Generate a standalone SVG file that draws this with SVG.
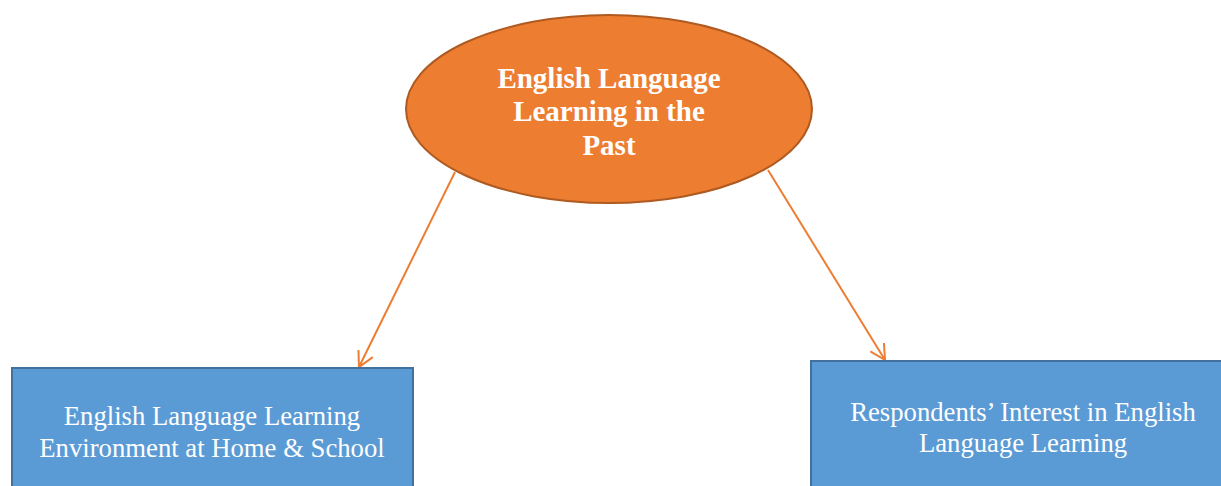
<svg xmlns="http://www.w3.org/2000/svg" width="1221" height="486" viewBox="0 0 1221 486">
<style>
.box{fill:#5b9bd5;stroke:#41719c;stroke-width:2}
.ell{fill:#ed7d31;stroke:#ae5a21;stroke-width:2}
.t{font-family:"Liberation Serif","Times New Roman",serif;fill:#fff;text-anchor:middle}
.tb{font-size:29px;font-weight:bold}
.tn{font-size:26.7px}
.conn{stroke:#ed7d31;stroke-width:2;fill:none}
</style>
<defs>
<marker id="arr" markerWidth="20" markerHeight="20" refX="16" refY="9" orient="auto" markerUnits="userSpaceOnUse">
<path d="M1,1 L16,9 L1,17" fill="none" stroke="#ed7d31" stroke-width="2"/>
</marker>
</defs>
<g id="connectors">
<line class="conn" x1="455" y1="172" x2="359" y2="367" marker-end="url(#arr)"/>
<line class="conn" x1="768" y1="170" x2="885" y2="360" marker-end="url(#arr)"/>
</g>
<g id="node-past">
<ellipse class="ell" cx="609" cy="109" rx="203" ry="94"/>
<text class="t tb" x="609" y="88">English Language</text>
<text class="t tb" x="609" y="121">Learning in the</text>
<text class="t tb" x="609" y="155">Past</text>
</g>
<g id="node-environment">
<rect class="box" x="12" y="368" width="401" height="130"/>
<text class="t tn" x="212" y="425">English Language Learning</text>
<text class="t tn" x="212" y="457">Environment at Home &amp; School</text>
</g>
<g id="node-interest">
<rect class="box" x="811" y="361" width="420" height="135"/>
<text class="t tn" x="1023" y="421">Respondents’ Interest in English</text>
<text class="t tn" x="1023" y="452">Language Learning</text>
</g>
</svg>
